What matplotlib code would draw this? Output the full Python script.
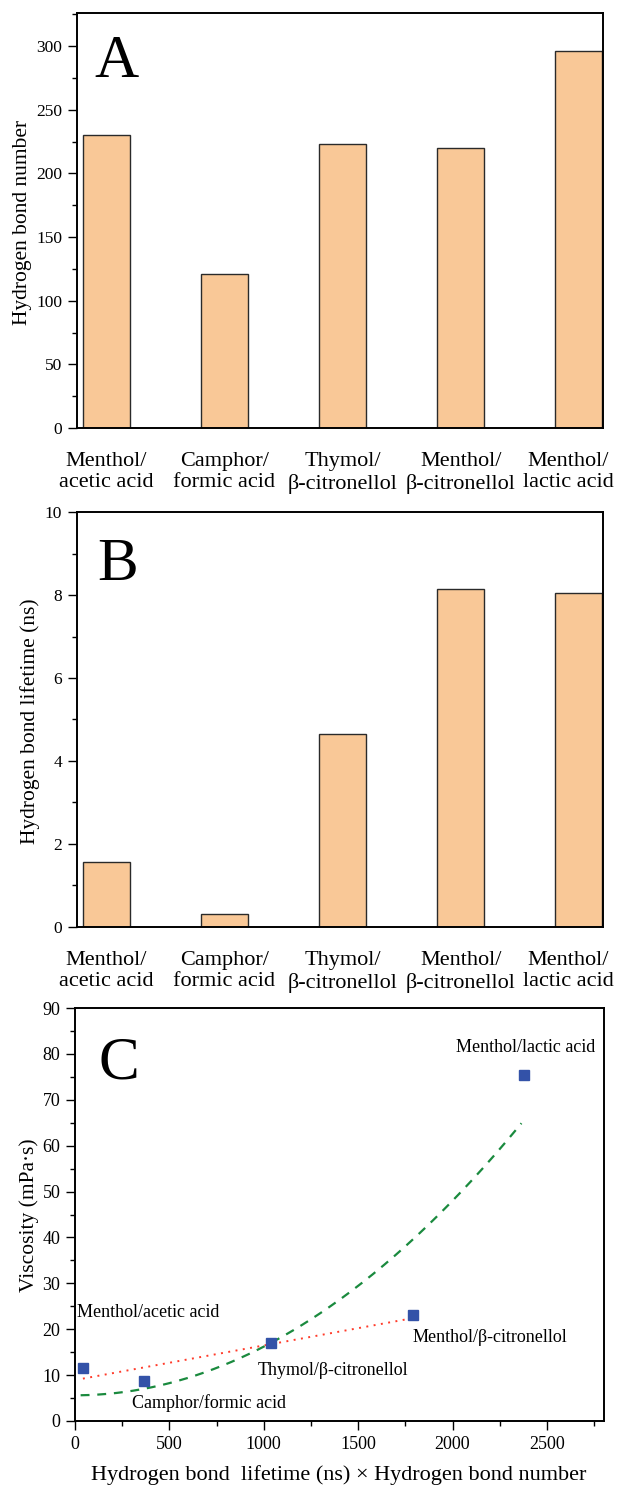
import matplotlib
matplotlib.use('Agg')
import matplotlib.pyplot as plt
from matplotlib.ticker import MultipleLocator
import numpy as np

plt.rcParams['font.family'] = ['Liberation Serif', 'DejaVu Serif']

# --- data ---
systems = ['Menthol/\nacetic acid', 'Camphor/\nformic acid', 'Thymol/\n\u03b2-citronellol',
           'Menthol/\n\u03b2-citronellol', 'Menthol/\nlactic acid']
hb_number = [230, 121, 223, 220, 296]
hb_lifetime = [1.57, 0.32, 4.65, 8.15, 8.05]

product = [42, 365, 1040, 1790, 2379]
viscosity = [11.6, 8.7, 17.0, 23.0, 75.3]
point_names = ['Menthol/acetic acid', 'Camphor/formic acid', 'Thymol/\u03b2-citronellol',
               'Menthol/\u03b2-citronellol', 'Menthol/lactic acid']
# where the point names sit (data coords)
name_pos = [(10, 22.7), (302, 2.8), (970, 10.0), (1790, 17.3), (2020, 80.4)]

# fitted trends (np.polyval coefficients)
quad_fit = [1.06e-5, 0.0, 5.6]
quad_range = [30, 2365]
lin_fit = [0.00754, 8.92]
lin_range = [42, 1773]

bar_color = '#f9c897'
edge = '#2a2a2a'
# the last category name is nudged left so it stays on the page
label_shift = [0, 0, 0, 0, -0.09]

fig = plt.figure(figsize=(6.17, 14.85), dpi=100)
axA = fig.add_axes([0.1245, 0.7118, 0.8536, 0.2794])
axB = fig.add_axes([0.1245, 0.3758, 0.8536, 0.2794])
axC = fig.add_axes([0.1215, 0.0431, 0.8567, 0.2781])


def bar_panel(ax, values, ylim, major, minor, ylabel, letter, lx, ly, lab_x):
    x = np.arange(1, len(values) + 1)
    ax.bar(x, values, width=0.4, color=bar_color, edgecolor=edge, linewidth=1.0)
    ax.set_xlim(0.75, 5.21)
    ax.set_ylim(*ylim)
    ax.set_xticks(x + np.array(label_shift))
    ax.set_xticklabels(systems, fontsize=16, linespacing=1.2)
    ax.yaxis.set_major_locator(MultipleLocator(major))
    ax.yaxis.set_minor_locator(MultipleLocator(minor))
    ax.tick_params(axis='x', length=0, pad=17)
    ax.tick_params(axis='y', which='major', direction='out', length=6.5, width=1.0,
                   labelsize=12.5, pad=4)
    ax.tick_params(axis='y', which='minor', direction='out', length=3.5, width=1.0)
    for s in ax.spines.values():
        s.set_linewidth(1.4)
    ax.set_ylabel(ylabel, fontsize=15.5, va='center')
    ax.yaxis.set_label_coords(lab_x, 0.495)
    ax.text(lx, ly, letter, transform=ax.transAxes, fontsize=44, va='baseline', ha='left')


bar_panel(axA, hb_number, (0, 326), 50, 25, 'Hydrogen bond number', 'A', 0.033, 0.845, -0.104)
bar_panel(axB, hb_lifetime, (0, 10), 2, 1, 'Hydrogen bond lifetime (ns)', 'B', 0.038, 0.836, -0.088)

# --- panel C ---
xs = np.linspace(quad_range[0], quad_range[1], 200)
axC.plot(xs, np.polyval(quad_fit, xs), color='#1a8a3e', lw=1.6, ls=(0, (4, 3.5)))
xs = np.linspace(lin_range[0], lin_range[1], 100)
axC.plot(xs, np.polyval(lin_fit, xs), color='#ff3b2a', lw=1.4, ls=(0, (1, 2.8)))
axC.plot(product, viscosity, 's', color='#3352a8', markersize=7, ls='none')
for name, (tx, ty) in zip(point_names, name_pos):
    axC.text(tx, ty, name, fontsize=13, ha='left', va='baseline')

axC.set_xlim(0, 2800)
axC.set_ylim(0, 90)
axC.xaxis.set_major_locator(MultipleLocator(500))
axC.xaxis.set_minor_locator(MultipleLocator(250))
axC.yaxis.set_major_locator(MultipleLocator(10))
axC.yaxis.set_minor_locator(MultipleLocator(5))
axC.tick_params(which='major', direction='out', length=6.5, width=1.0, labelsize=13, pad=4)
axC.tick_params(which='minor', direction='out', length=3.5, width=1.0)
for s in axC.spines.values():
    s.set_linewidth(1.4)
axC.set_ylabel('Viscosity (mPa\u00b7s)', fontsize=15.5, va='center')
axC.yaxis.set_label_coords(-0.087, 0.499)
axC.set_xlabel('Hydrogen bond  lifetime (ns) \u00d7 Hydrogen bond number', fontsize=16, va='baseline')
axC.xaxis.set_label_coords(0.499, -0.143)
axC.text(0.045, 0.83, 'C', transform=axC.transAxes, fontsize=44, va='baseline', ha='left')

fig.savefig('out.png', dpi=100)
